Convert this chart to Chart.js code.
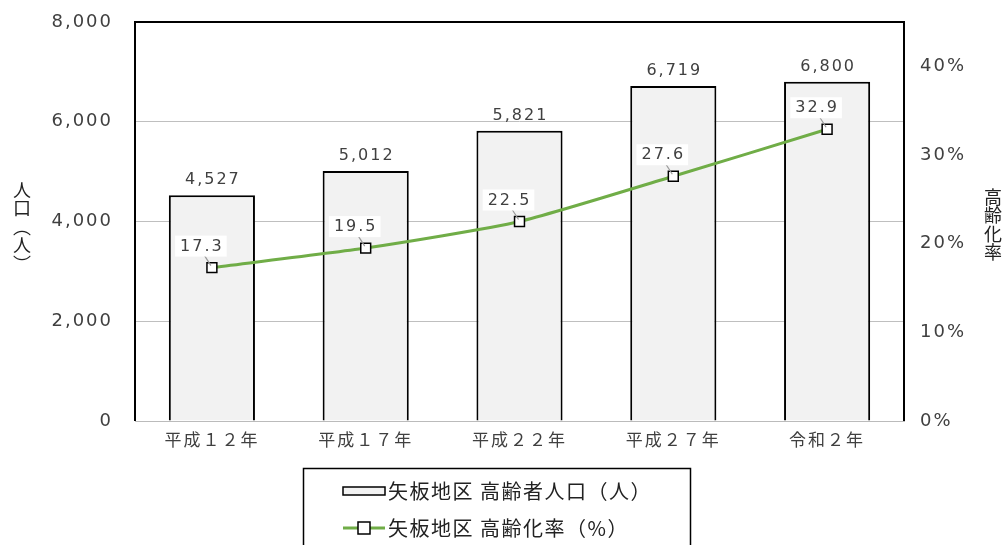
<!DOCTYPE html>
<html>
<head>
<meta charset="utf-8">
<script src="https://cdn.jsdelivr.net/npm/chart.js@4/dist/chart.umd.min.js"></script>
<style>
  html, body { margin: 0; padding: 0; background: #fff; }
  #wrap { width: 1006px; height: 545px; position: relative; }
</style>
</head>
<body>
<div id="wrap"><canvas id="chart"></canvas></div>
<script>
// values
const categories = ['平成１２年', '平成１７年', '平成２２年', '平成２７年', '令和２年'];
const elderlyPop = [4527, 5012, 5821, 6719, 6800];
const agingRate = [17.3, 19.5, 22.5, 27.6, 32.9];

const popLabel = '矢板地区 高齢者人口（人）';
const rateLabel = '矢板地区 高齢化率（%）';
const leftTitle = ['人', '口', '︵', '人', '︶'];
const rightTitle = ['高', '齢', '化', '率'];

const NUMFONT = '"DejaVu Sans", sans-serif';
const JPFONT = '"Noto Sans CJK JP", sans-serif';
const TXT = '#404040';

// wide spacing like the original office font
const spacing = {
    id: 'spacing',
    beforeDraw(chart) { chart.ctx.letterSpacing = '2px'; }
};

// y axes: no extra room for the end labels, the layout padding handles it
const noEndPad = s => { s.paddingTop = 0; s.paddingBottom = 0; };

// labels, axis titles and the boxed legend
const extras = {
    id: 'extras',
    afterDatasetsDraw(chart) {
        const ctx = chart.ctx;
        const area = chart.chartArea;
        ctx.save();
        ctx.letterSpacing = '2px';

        // bar values
        ctx.font = '16px ' + NUMFONT;
        ctx.fillStyle = TXT;
        ctx.textAlign = 'center';
        ctx.textBaseline = 'middle';
        chart.getDatasetMeta(1).data.forEach((bar, i) => {
            ctx.fillText(elderlyPop[i].toLocaleString('en-US'), bar.x + 1, bar.y - 15);
        });

        // rate values in white boxes with a leader line
        chart.getDatasetMeta(0).data.forEach((pt, i) => {
            const txt = agingRate[i].toFixed(1);
            const lx = pt.x - 11, ly = pt.y - 21;
            const w = ctx.measureText(txt).width + 8;
            ctx.strokeStyle = '#999';
            ctx.lineWidth = 1.2;
            ctx.beginPath();
            ctx.moveTo(lx + 3, ly + 8);
            ctx.lineTo(pt.x - 1, pt.y - 2);
            ctx.stroke();
            ctx.fillStyle = '#fff';
            ctx.fillRect(lx - w / 2, ly - 11, w, 21);
            ctx.fillStyle = TXT;
            ctx.fillText(txt, lx + 1, ly);
        });

        // plot frame
        ctx.strokeStyle = '#000';
        ctx.lineWidth = 2;
        ctx.beginPath();
        ctx.moveTo(area.left, area.bottom);
        ctx.lineTo(area.left, area.top);
        ctx.lineTo(area.right, area.top);
        ctx.lineTo(area.right, area.bottom);
        ctx.stroke();

        // stacked axis titles
        ctx.letterSpacing = '0px';
        ctx.font = '18px ' + JPFONT;
        ctx.fillStyle = '#222';
        leftTitle.forEach((ch, i) => ctx.fillText(ch, 22, 190 + i * 18.5));
        rightTitle.forEach((ch, i) => ctx.fillText(ch, 993, 197 + i * 18.5));

        // legend
        ctx.strokeStyle = '#000';
        ctx.lineWidth = 1.5;
        ctx.strokeRect(303.5, 468.5, 387, 90);
        ctx.font = '20px ' + JPFONT;
        ctx.letterSpacing = '1.5px';
        ctx.textAlign = 'left';
        // bar swatch
        ctx.fillStyle = '#f2f2f2';
        ctx.fillRect(343, 487, 42, 8);
        ctx.strokeStyle = '#000';
        ctx.lineWidth = 1.5;
        ctx.strokeRect(343, 487, 42, 8);
        ctx.fillStyle = '#222';
        ctx.fillText(popLabel, 388, 491);
        // line swatch
        ctx.strokeStyle = '#70ad47';
        ctx.lineWidth = 3;
        ctx.beginPath();
        ctx.moveTo(343, 528);
        ctx.lineTo(385, 528);
        ctx.stroke();
        ctx.fillStyle = '#fff';
        ctx.fillRect(358, 522, 12, 12);
        ctx.strokeStyle = '#000';
        ctx.lineWidth = 1.5;
        ctx.strokeRect(358, 522, 12, 12);
        ctx.fillStyle = '#222';
        ctx.fillText(rateLabel, 388, 528);

        ctx.restore();
    }
};

new Chart(document.getElementById('chart').getContext('2d'), {
    data: {
        labels: categories,
        datasets: [
            {
                type: 'line',
                label: rateLabel,
                data: agingRate.map(v => v / 100),
                yAxisID: 'y1',
                borderColor: '#70ad47',
                borderWidth: 3,
                pointStyle: 'rect',
                pointRadius: 7,
                pointBackgroundColor: '#fff',
                pointBorderColor: '#000',
                pointBorderWidth: 1.5,
                tension: 0.2,
                order: 0
            },
            {
                type: 'bar',
                label: popLabel,
                data: elderlyPop,
                yAxisID: 'y',
                backgroundColor: '#f2f2f2',
                borderColor: '#000',
                borderWidth: 2,
                categoryPercentage: 1,
                barPercentage: 0.56,
                order: 1
            }
        ]
    },
    options: {
        responsive: true,
        maintainAspectRatio: false,
        animation: false,
        layout: { padding: { top: 22, left: 0, right: 0, bottom: 0 } },
        scales: {
            x: {
                grid: { display: false, drawTicks: false },
                border: { color: '#bbb', width: 1 },
                ticks: { color: TXT, font: { family: JPFONT, size: 17 }, padding: 8 },
                afterFit: s => { s.height = 124; }
            },
            y: {
                position: 'left',
                min: 0, max: 8000,
                ticks: {
                    stepSize: 2000, color: TXT, padding: 22,
                    font: { family: NUMFONT, size: 18 },
                    callback: v => v.toLocaleString('en-US')
                },
                grid: { color: '#bfbfbf', lineWidth: 1, drawTicks: false },
                border: { display: false },
                afterFit: s => { s.width = 135; noEndPad(s); }
            },
            y1: {
                position: 'right',
                min: 0, max: 0.45,
                afterBuildTicks: s => {
                    s.ticks = [0, 0.1, 0.2, 0.3, 0.4].map(v => ({ value: v }));
                },
                ticks: {
                    color: TXT, padding: 16,
                    font: { family: NUMFONT, size: 18 },
                    callback: v => Math.round(v * 100) + '%'
                },
                grid: { display: false, drawTicks: false },
                border: { display: false },
                afterFit: s => { s.width = 102; noEndPad(s); }
            }
        },
        plugins: {
            legend: { display: false },
            tooltip: { enabled: false }
        }
    },
    plugins: [spacing, extras]
});
</script>
</body>
</html>
